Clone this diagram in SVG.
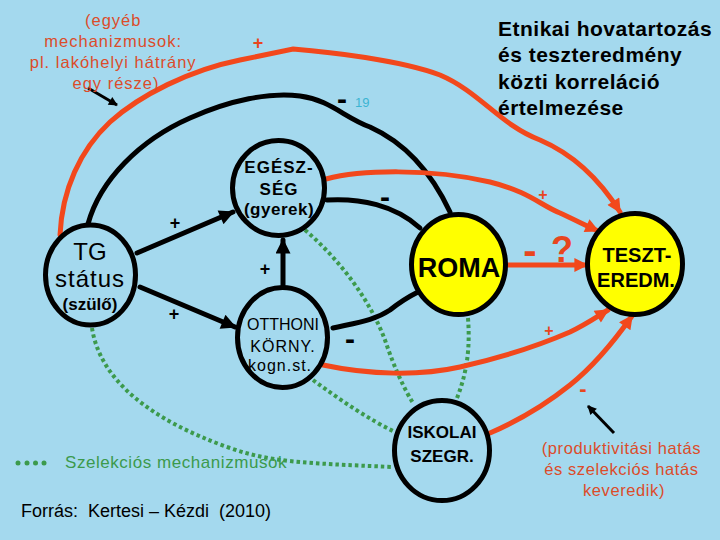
<svg xmlns="http://www.w3.org/2000/svg" width="720" height="540" viewBox="0 0 720 540">
<defs>
<style>
text{font-family:"Liberation Sans",Arial,sans-serif;}
.node{fill:none;stroke:#000;stroke-width:5;}
.yel{fill:#ffff00;stroke:#000;stroke-width:5;}
.nt{fill:#000;text-anchor:middle;}
.b{font-weight:bold;}
.blk{fill:none;stroke:#000;stroke-width:5;stroke-linecap:round;}
.red{fill:none;stroke:#f2481c;stroke-width:5;stroke-linecap:round;}
.grn{fill:none;stroke:#3c9a4c;stroke-width:4;stroke-dasharray:3.5 3;}
.rt{fill:#dc4c2a;}
.lab{fill:#000;font-weight:bold;text-anchor:middle;}
.rlab{fill:#e8461e;font-weight:bold;text-anchor:middle;}
</style>
<marker id="ab" viewBox="0 0 10 10" refX="9" refY="5" markerWidth="18" markerHeight="15" markerUnits="userSpaceOnUse" orient="auto"><path d="M0,0 L10,5 L0,10 z" fill="#000"/></marker>
<marker id="ar" viewBox="0 0 10 10" refX="9" refY="5" markerWidth="18" markerHeight="14" markerUnits="userSpaceOnUse" orient="auto"><path d="M0,0 L10,5 L0,10 z" fill="#f2481c"/></marker>
<marker id="as" viewBox="0 0 10 10" refX="9" refY="5" markerWidth="11" markerHeight="9" markerUnits="userSpaceOnUse" orient="auto"><path d="M0,0 L10,5 L0,10 z" fill="#000"/></marker>
</defs>
<rect width="720" height="540" fill="#a4d9ee"/>

<g id="connectors">
<!-- green dotted -->
<path class="grn" d="M92,328 C100,380 150,420 230,448 C270,462 300,463 393,467"/>
<path class="grn" d="M313,380 C340,400 370,420 395,432"/>
<path class="grn" d="M305,230 C340,260 370,300 385,340 C395,370 405,390 413,403"/>
<path class="grn" d="M468,318 C470,345 468,370 457,398"/>
<!-- black -->
<path class="blk" d="M88,224 C100,180 140,140 190,118 C230,100 270,92 300,96 C330,100 345,118 370,127 C410,145 435,180 450,212"/>
<path class="blk" d="M327,200 C360,198 395,205 420,228"/>
<path class="blk" d="M333,328 C360,322 375,320 390,310 C400,302 410,296 418,292"/>
<path class="blk" d="M137,253 L233,212" marker-end="url(#ab)"/>
<path class="blk" d="M140,287 L235,327" marker-end="url(#ab)"/>
<path class="blk" d="M283,285 L283,240" marker-end="url(#ab)"/>
<!-- red -->
<path class="red" d="M60,235 C62,190 80,150 110,122 C140,95 190,70 240,60 L293,49 C330,52 400,60 440,75 C480,92 500,125 540,140 C575,155 600,180 620,212" marker-end="url(#ar)"/>
<path class="red" d="M326,179 C360,170 430,168 490,182 C530,192 540,205 560,213 C575,220 585,225 598,231" marker-end="url(#ar)"/>
<path class="red" d="M508,265 L587,265" marker-end="url(#ar)"/>
<path class="red" d="M323,365 C370,375 420,376 460,367 C500,358 540,345 570,332 C585,325 595,318 608,310" marker-end="url(#ar)"/>
<path class="red" d="M490,433 C520,420 545,405 570,385 C595,365 615,340 632,316" marker-end="url(#ar)"/>
<!-- small pointer arrows -->
<path d="M88,88 L117,105" stroke="#000" stroke-width="3" fill="none" marker-end="url(#as)"/>
<path d="M614,433 L588,406" stroke="#000" stroke-width="3" fill="none" marker-end="url(#as)"/>
<!-- labels -->
<text class="lab" x="175" y="229" font-size="18">+</text>
<text class="lab" x="174" y="320" font-size="18">+</text>
<text class="lab" x="265" y="275" font-size="18">+</text>
<text class="lab" x="342" y="109" font-size="30">-</text>
<text class="lab" x="385" y="207" font-size="30">-</text>
<text class="lab" x="350" y="349" font-size="30">-</text>
<text class="rlab" x="258" y="49" font-size="18">+</text>
<text class="rlab" x="543" y="200" font-size="16">+</text>
<text class="rlab" x="549" y="336" font-size="16">+</text>
<text class="rlab" x="583" y="396" font-size="22">-</text>
<text class="rlab" x="530" y="264" font-size="40">-</text>
<text class="rlab" x="562" y="262" font-size="36">?</text>
</g>

<g id="tg">
<ellipse class="node" cx="90.5" cy="275" rx="45" ry="50"/>
<text class="nt" x="90" y="260" font-size="24">TG</text>
<text class="nt" x="90" y="287" font-size="24" letter-spacing="1">státus</text>
<text class="nt b" x="90" y="310" font-size="17">(szülő)</text>
</g>
<g id="egeszseg">
<ellipse class="node" cx="278.5" cy="188" rx="46" ry="47.5"/>
<text class="nt b" x="279" y="173" font-size="17" letter-spacing="1">EGÉSZ-</text>
<text class="nt b" x="279" y="195" font-size="17" letter-spacing="1">SÉG</text>
<text class="nt b" x="279" y="215" font-size="17" letter-spacing="0.5">(gyerek)</text>
</g>
<g id="otthoni">
<ellipse class="node" cx="282.5" cy="337.5" rx="45" ry="50"/>
<text class="nt" x="283" y="330" font-size="16">OTTHONI</text>
<text class="nt" x="283" y="352" font-size="16" letter-spacing="1">KÖRNY.</text>
<text class="nt" x="280" y="371" font-size="16" letter-spacing="1">kogn.st.</text>
</g>
<g id="roma">
<ellipse class="yel" cx="458.5" cy="264.5" rx="47" ry="50"/>
<text class="nt b" x="459" y="277" font-size="27">ROMA</text>
</g>
<g id="teszt">
<ellipse class="yel" cx="635" cy="264" rx="47.5" ry="50.5"/>
<text class="nt b" x="637" y="262" font-size="20">TESZT-</text>
<text class="nt b" x="636" y="287" font-size="20">EREDM.</text>
</g>
<g id="iskolai">
<ellipse class="node" cx="442" cy="450.5" rx="47.5" ry="50"/>
<text class="nt b" x="442" y="438" font-size="17">ISKOLAI</text>
<text class="nt b" x="442" y="462" font-size="17">SZEGR.</text>
</g>

<g id="annotations">
<text class="rt" text-anchor="middle" font-size="16.5" letter-spacing="1">
<tspan x="116" y="26">(egyéb</tspan>
<tspan x="116" y="47">mechanizmusok:</tspan>
<tspan x="116" y="68">pl. lakóhelyi hátrány</tspan>
<tspan x="116" y="89">egy része)</tspan>
</text>
<text class="b" fill="#000" font-size="21" letter-spacing="0.5">
<tspan x="498" y="36">Etnikai hovatartozás</tspan>
<tspan x="498" y="62">és teszteredmény</tspan>
<tspan x="498" y="89">közti korreláció</tspan>
<tspan x="498" y="115">értelmezése</tspan>
</text>
<text x="355" y="107" font-size="13" fill="#3bb4d2">19</text>
<text class="rt" text-anchor="middle" font-size="16.5" letter-spacing="0.6">
<tspan x="624" y="454">(produktivitási hatás</tspan>
<tspan x="624" y="475">és szelekciós hatás</tspan>
<tspan x="624" y="496">keveredik)</tspan>
</text>
<g fill="#3c9a4c">
<circle cx="18" cy="463" r="2.5"/><circle cx="27" cy="463" r="2.5"/><circle cx="35.5" cy="463" r="2.5"/><circle cx="44" cy="463" r="2.5"/>
</g>
<text x="65" y="468" font-size="17" letter-spacing="0.55" fill="#3c9a4c">Szelekciós mechanizmusok</text>
<text x="21" y="517" font-size="18" fill="#000" xml:space="preserve">Forrás:  Kertesi – Kézdi  (2010)</text>
</g>
</svg>
